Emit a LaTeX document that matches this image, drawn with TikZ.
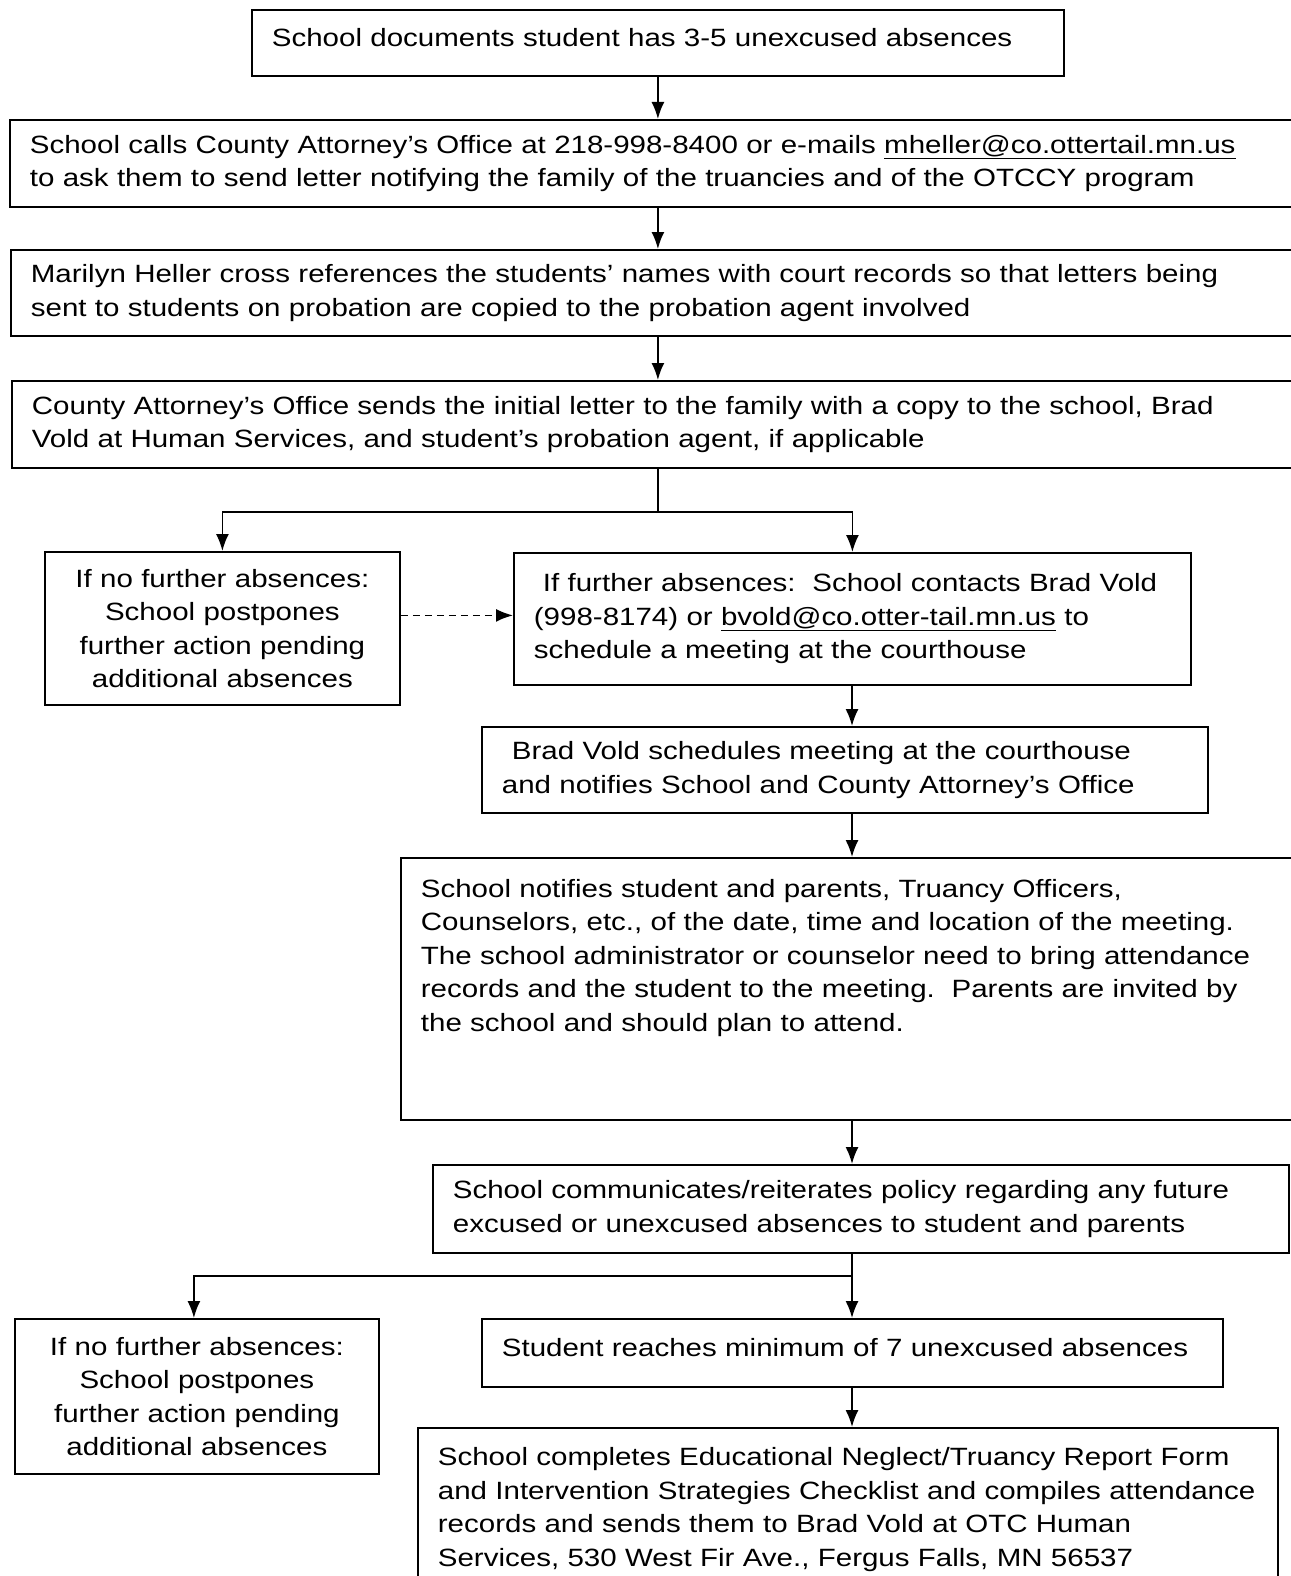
\documentclass[tikz,border=0pt]{standalone}
\usepackage{fontspec}
\setmainfont{Liberation Sans}[FakeStretch=1.18]
\usetikzlibrary{arrows.meta}

\tikzset{
  stepbox/.style={draw, line width=1.8pt, anchor=north west, inner xsep=20pt, inner ysep=4pt,
    align=left, font=\fontsize{25}{33.5}\selectfont},
  waitbox/.style={stepbox, align=center},
  flow/.style={line width=1.8pt, -{Latex[length=17pt,width=13pt]}},
  link/.style={line width=1.8pt}
}

\begin{document}
\begin{tikzpicture}[x=1pt, y=-1pt]
		\useasboundingbox (0,0) rectangle (1290,1576);
		\fill[white] (0,0) rectangle (1290,1576);
		\coordinate (spine) at (852,0);
		
		\node[stepbox, text width=772pt, minimum height=66pt, text depth=11pt] (docs) at (251,9) {School documents student has 3-5 unexcused absences};
		\node[stepbox, text width=1251pt, minimum height=87pt] (call) at (9,119) {School calls County Attorney’s Office at 218-998-8400 or e-mails \underline{mheller@co.ottertail.mn.us}\\ to ask them to send letter notifying the family of the truancies and of the OTCCY program};
		\node[stepbox, text width=1250pt, minimum height=86pt] (check) at (10,249) {Marilyn Heller cross references the students’ names with court records so that letters being\\ sent to students on probation are copied to the probation agent involved};
		\node[stepbox, text width=1249pt, minimum height=87pt] (letter) at (11,380) {County Attorney’s Office sends the initial letter to the family with a copy to the school, Brad\\ Vold at Human Services, and student’s probation agent, if applicable};
		
		\node[waitbox, text width=315pt, minimum height=153pt] (waitA) at (44,551) {If no further absences:\\ School postpones\\ further action pending\\ additional absences};
		\node[stepbox, text width=637pt, minimum height=132pt] (contact) at (513,552) {\hspace*{9pt}If further absences:\ \ School contacts Brad Vold\\ (998-8174) or \underline{bvold@co.otter-tail.mn.us} to\\ schedule a meeting at the courthouse};
		\node[stepbox, text width=686pt, minimum height=86pt] (sched) at (481,726) {\hspace*{10pt}Brad Vold schedules meeting at the courthouse\\ and notifies School and County Attorney’s Office};
		\node[stepbox, text width=860pt, minimum height=262pt] (notify) at (400,857) {School notifies student and parents, Truancy Officers,\\ Counselors, etc., of the date, time and location of the meeting.\\ The school administrator or counselor need to bring attendance\\ records and the student to the meeting.\ \ Parents are invited by\\ the school and should plan to attend.\\ \mbox{}\\ \mbox{}};
		\node[stepbox, text width=816pt, minimum height=88pt] (policy) at (432,1164) {School communicates/reiterates policy regarding any future\\ excused or unexcused absences to student and parents};
		
		\node[waitbox, text width=324pt, minimum height=155pt] (waitB) at (14,1318) {If no further absences:\\ School postpones\\ further action pending\\ additional absences};
		\node[stepbox, text width=701pt, minimum height=68pt, text depth=11pt] (seven) at (481,1318) {Student reaches minimum of 7 unexcused absences};
		\node[stepbox, text width=820pt, minimum height=163pt] (report) at (417,1427) {School completes Educational Neglect/Truancy Report Form\\ and Intervention Strategies Checklist and compiles attendance\\ records and sends them to Brad Vold at OTC Human\\ Services, 530 West Fir Ave., Fergus Falls, MN 56537};
		
		% main line
		\path [flow] (docs.south) edge (docs.south |- call.north);
		\path [flow] (docs.south |- call.south) edge (docs.south |- check.north);
		\path [flow] (docs.south |- check.south) edge (docs.south |- letter.north);
		
		% first split
		\draw [link] (docs.south |- letter.south) -- ++(0,43) coordinate (split1);
		\draw [flow] (split1) -| (waitA.north);
		\draw [flow] (split1) -| (contact.north);
		\draw [flow, dashed, dash pattern=on 7pt off 5pt] ([yshift=13pt]waitA.east) -- ([yshift=13pt]waitA.east -| contact.west);
		
		\path [flow] (contact.south -| spine) edge (sched.north -| spine);
		\path [flow] (sched.south -| spine) edge (notify.north -| spine);
		\path [flow] (notify.south -| spine) edge (policy.north -| spine);
		
		% second split
		\draw [link] (policy.south -| spine) -- ++(0,22) coordinate (split2);
		\draw [flow] (split2) -| ([xshift=-3pt]waitB.north);
		\draw [flow] (split2) -- (seven.north -| spine);
		\path [flow] (seven.south -| spine) edge (report.north -| spine);
\end{tikzpicture}
\end{document}
